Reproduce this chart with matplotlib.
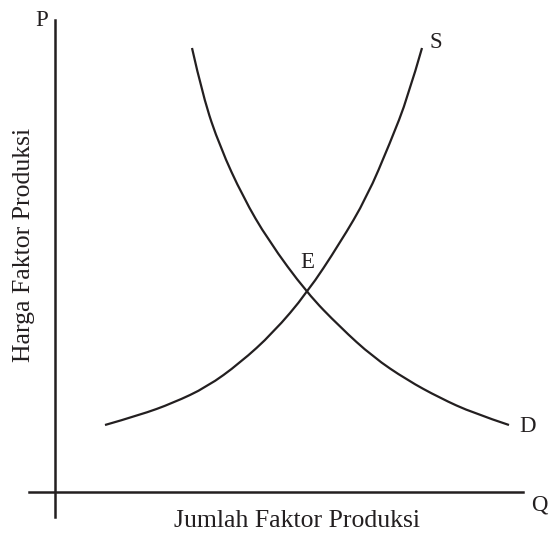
import matplotlib
matplotlib.use('Agg')
import matplotlib.pyplot as plt
from matplotlib.path import Path
from matplotlib.patches import PathPatch

# kurva penawaran (S) dan permintaan (D), dalam satuan jumlah (Q) dan harga (P)
supply_q = [50, 85, 118, 152, 185, 218, 252, 285, 312, 335, 353, 367]
supply_p = [67, 77, 89, 105, 129, 159, 199, 249, 295, 349, 395, 444]
demand_q = [137, 148, 165, 188, 213, 252, 285, 318, 352, 385, 418, 454]
demand_p = [444, 395, 345, 295, 252, 199, 165, 135, 112, 94, 79, 67]
eq_index = 6  # titik keseimbangan E pada kurva penawaran

x_label = 'Jumlah Faktor Produksi'
y_label = 'Harga Faktor Produksi'

ink = '#231f20'
plt.rcParams['font.family'] = ['Liberation Serif', 'DejaVu Serif']


def smooth_curve(qs, ps):
    # kurva kuadratik yang melewati titik tengah antar titik
    pts = list(zip(qs, ps))
    verts = [pts[0]]
    codes = [Path.MOVETO]
    for i in range(1, len(pts) - 1):
        mid = ((pts[i][0] + pts[i + 1][0]) / 2, (pts[i][1] + pts[i + 1][1]) / 2)
        if i == len(pts) - 2:
            mid = pts[-1]
        verts += [pts[i], mid]
        codes += [Path.CURVE3, Path.CURVE3]
    return PathPatch(Path(verts, codes), facecolor='none', edgecolor=ink,
                     linewidth=1.6, capstyle='butt')


fig = plt.figure(figsize=(5.49, 5.36), dpi=100)
ax = fig.add_axes([0, 0, 1, 1])
ax.set_xlim(-55, 494)
ax.set_ylim(-44, 492)

ax.add_patch(smooth_curve(supply_q, supply_p))
ax.add_patch(smooth_curve(demand_q, demand_p))

# sumbu P dan Q saling memotong di titik nol
for side in ['top', 'right']:
    ax.spines[side].set_visible(False)
ax.spines['left'].set_position(('data', 0))
ax.spines['bottom'].set_position(('data', 0))
ax.spines['left'].set_bounds(-25, 472)
ax.spines['bottom'].set_bounds(-26, 468)
for side in ['left', 'bottom']:
    ax.spines[side].set_color(ink)
    ax.spines[side].set_linewidth(1.8)
ax.set_xticks([])
ax.set_yticks([])
ax.patch.set_alpha(0)

fs = 16.5
ax.text(-13, 472, 'P', fontsize=fs, color=ink, ha='center', va='center')
ax.text(484, -13, 'Q', fontsize=fs, color=ink, ha='center', va='center')
ax.text(supply_q[-1] + 14, supply_p[-1] + 6, 'S', fontsize=fs, color=ink,
        ha='center', va='center')
ax.text(demand_q[-1] + 19, demand_p[-1] - 1, 'D', fontsize=fs, color=ink,
        ha='center', va='center')
ax.text(supply_q[eq_index], supply_p[eq_index] + 31, 'E', fontsize=fs,
        color=ink, ha='center', va='center')

ax.text(242, -29, x_label, fontsize=18.5, color=ink, ha='center', va='center')
ax.text(-31, 247, y_label, fontsize=18.5, color=ink, ha='center', va='center',
        rotation=90)

fig.savefig('out.png', dpi=100)
plt.close(fig)
